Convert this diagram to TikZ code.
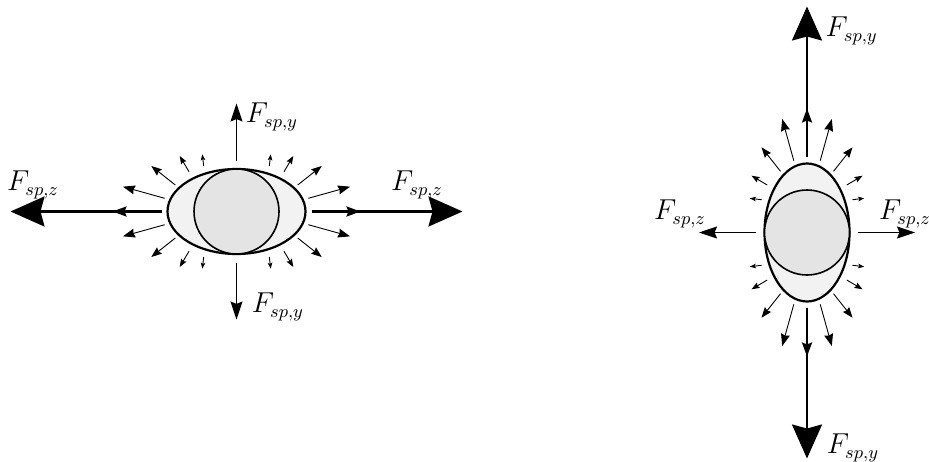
\documentclass[tikz,border=0pt]{standalone}
\usepackage{amsmath}
\usepackage{tikz}
\usetikzlibrary{arrows.meta,calc}
\definecolor{dropLight}{HTML}{F2F2F2}
\definecolor{dropDark}{HTML}{E4E4E4}
\tikzset{
  dropShell/.style={draw=black, fill=dropLight, line width=1.1pt},
  dropCore/.style={draw=black, fill=dropDark, line width=0.8pt},
  dropMain/.style={line width=1.1pt, -{Stealth[length=17pt,width=15pt,inset=2pt]}},
  dropMid/.style={line width=1.1pt, -{Stealth[length=7pt,width=5pt,inset=1pt]}},
  dropSide/.style={line width=0.6pt, -{Stealth[length=9pt,width=6pt,inset=1.2pt]}},
  dropSmall/.style={line width=0.45pt, -{Stealth[length=#1,inset=0.6pt]}},
  dropLabel/.style={inner sep=1pt, font=\fontsize{13.5pt}{16pt}\selectfont}
}
% one drop with its forces, major axis along local x
\newcommand{\dropForces}{%
  \draw[dropShell] (0,0) ellipse[x radius=69, y radius=42.5];
  \draw[dropCore] (0,0) circle[radius=42.5];
  \foreach \s in {1,-1} {
    \draw[dropMain] (75*\s,0) -- (226*\s,0);
    \draw[dropMid] (75*\s,0) -- (124*\s,0);
    \draw[dropSide] (0,51*\s) -- (0,108*\s);
  }
  \foreach \sx in {1,-1}
    \foreach \sy in {1,-1}
      \foreach \xa/\ya/\xb/\yb/\h in {32.8/45.5/34.2/57.2/3pt,47.5/39.8/56.8/55.5/4pt,61.2/26.5/85.2/45.5/5.2pt,71.8/13.2/113.5/24.8/6pt}
        \draw[dropSmall=\h] (\sx*\xa,\sy*\ya) -- (\sx*\xb,\sy*\yb);
}

\begin{document}
\begin{tikzpicture}[x=0.5pt, y=0.5pt]
  \useasboundingbox (0,0) rectangle (929,461);

  \begin{scope}[shift={(236.5,249.5)}]
    \dropForces
  \end{scope}
  \begin{scope}[shift={(807,228.5)}, rotate=90]
    \dropForces
  \end{scope}

  \node[dropLabel] (flatUp) at (272,344) {$F_{sp,y}$};
  \node[dropLabel] (flatDown) at (278,154) {$F_{sp,y}$};
  \node[dropLabel] (flatLeft) at (33,276) {$F_{sp,z}$};
  \node[dropLabel] (flatRight) at (417,276) {$F_{sp,z}$};

  \node[dropLabel] (tallUp) at (851.7,430) {$F_{sp,y}$};
  \node[dropLabel] (tallDown) at (853,13) {$F_{sp,y}$};
  \node[dropLabel] (tallLeft) at (680,247) {$F_{sp,z}$};
  \node[dropLabel] (tallRight) at (905,247) {$F_{sp,z}$};
\end{tikzpicture}
\end{document}
